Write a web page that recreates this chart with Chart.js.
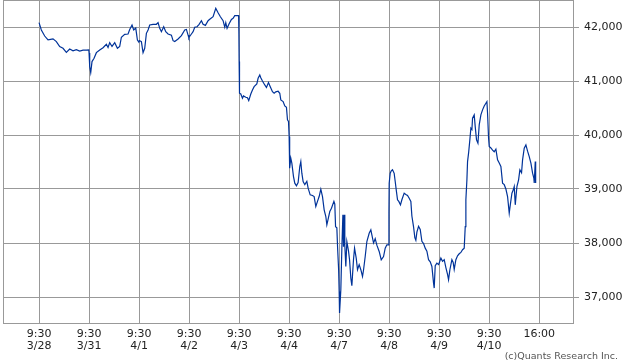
<!DOCTYPE html>
<html>
<head>
<meta charset="utf-8">
<script src="https://cdn.jsdelivr.net/npm/chart.js@4/dist/chart.umd.min.js"></script>
<style>
  body { margin: 0; background: #fff; }
  #wrap { position: relative; width: 638px; height: 362px; }
  #credit { position: absolute; right: 20px; top: 350px; font: 9.5px "DejaVu Sans", sans-serif; color: #555; }
</style>
</head>
<body>
<div id="wrap">
  <canvas id="chart" width="638" height="362"></canvas>
  <div id="credit">(c)Quants Research Inc.</div>
</div>
<script>
// trading days on the axis, each session 9:30-16:00 (390 minutes)
const days = ['3/28', '3/31', '4/1', '4/2', '4/3', '4/4', '4/7', '4/8', '4/9', '4/10'];
const sessionMinutes = 390;
const yTicks = [37000, 38000, 39000, 40000, 41000, 42000];

// [minutes after 9:30, index level]
const mar28 = [[0,42080],[18,41945],[44,41833],[70,41760],[90,41770],[109,41780],[135,41730],[161,41636],[187,41605],[213,41530],[239,41593],[265,41560],[291,41580],[317,41555],[343,41570],[369,41570],[388,41575]];
const mar31 = [[0,41520],[5,41265],[13,41155],[23,41360],[39,41420],[57,41525],[83,41575],[109,41617],[135,41680],[148,41620],[161,41710],[179,41640],[200,41710],[221,41605],[239,41640],[252,41810],[278,41865],[304,41870],[317,41955],[335,42037],[348,41945],[364,41980],[377,41760],[388,41720]];
const apr1 = [[0,41740],[5,41747],[18,41730],[31,41525],[44,41605],[57,41883],[70,41945],[83,42037],[109,42050],[135,42050],[148,42080],[161,41975],[174,41913],[192,42005],[208,41913],[226,41870],[252,41850],[265,41747],[278,41730],[304,41778],[330,41840],[356,41945],[369,41955],[382,41850],[388,41800]];
const apr2 = [[0,41810],[18,41870],[31,41913],[44,41995],[62,42005],[78,42050],[96,42117],[109,42050],[127,42030],[148,42117],[161,42142],[187,42190],[208,42345],[226,42265],[244,42190],[265,42117],[278,41995],[286,42080],[296,41975],[312,42060],[330,42140],[343,42160],[356,42210],[386,42210],[388,41913]];
const apr3 = [[0,41360],[2,40900],[4,40773],[13,40760],[26,40680],[34,40723],[52,40700],[65,40690],[75,40637],[91,40760],[104,40835],[117,40896],[138,40945],[148,41050],[161,41112],[169,41060],[182,41000],[200,40927],[213,40880],[229,40970],[242,40900],[260,40803],[273,40773],[286,40800],[304,40810],[317,40773],[325,40650],[343,40618],[356,40538],[369,40514],[377,40280],[385,40250]];
const apr4 = [[0,39970],[3,39663],[5,39385],[13,39570],[21,39480],[34,39230],[44,39108],[57,39058],[70,39120],[83,39416],[91,39508],[99,39293],[109,39138],[122,39080],[138,39140],[148,39015],[164,38892],[182,38880],[195,38860],[208,38675],[221,38770],[234,38860],[247,38997],[260,38860],[273,38615],[286,38490],[294,38337],[304,38440],[317,38583],[330,38645],[349,38770],[356,38720],[362,38300],[372,38280],[378,37905],[386,37500]];
const apr7 = [[0,37100],[3,36703],[13,37135],[21,37905],[29,38522],[34,37930],[39,38522],[44,37960],[52,37565],[60,38027],[73,37850],[81,37690],[91,37350],[99,37210],[112,37700],[120,37905],[133,37720],[143,37505],[156,37600],[169,37505],[182,37380],[190,37500],[203,37750],[216,38027],[234,38180],[247,38245],[255,38150],[268,38000],[281,38080],[294,37960],[312,37843],[328,37690],[346,37750],[359,37905],[372,37967],[384,37967],[388,38553]];
const apr8 = [[0,39108],[8,39293],[16,39335],[26,39355],[39,39290],[47,39138],[55,38985],[65,38800],[75,38770],[88,38707],[99,38800],[117,38923],[130,38900],[143,38880],[156,38830],[169,38770],[177,38500],[190,38300],[200,38100],[208,38050],[216,38200],[229,38310],[242,38250],[255,38030],[268,37990],[281,37905],[294,37850],[307,37690],[320,37650],[333,37565],[346,37257],[351,37165],[359,37580],[372,37628],[385,37600]];
const apr9 = [[0,37628],[13,37720],[26,37660],[39,37690],[52,37545],[65,37420],[73,37320],[83,37500],[99,37690],[109,37640],[117,37510],[130,37690],[143,37763],[156,37800],[169,37825],[182,37875],[195,37905],[203,38305],[208,38800],[216,39170],[221,39508],[229,39663],[239,39910],[247,40126],[255,40100],[260,40311],[273,40372],[281,40150],[291,39910],[302,39848],[312,40188],[325,40372],[338,40465],[351,40538],[364,40588],[372,40618],[377,40403],[385,39940]];
const apr10 = [[0,39786],[13,39760],[26,39720],[39,39690],[52,39737],[65,39540],[78,39480],[91,39416],[104,39108],[117,39080],[130,39000],[143,38860],[156,38553],[164,38700],[177,38923],[187,38980],[195,39045],[203,38707],[216,39045],[229,39170],[239,39355],[252,39300],[260,39540],[273,39755],[286,39817],[299,39700],[312,39600],[325,39478],[338,39293],[348,39200],[351,39110],[359,39508],[362,39110]];

const sessions = [mar28, mar31, apr1, apr2, apr3, apr4, apr7, apr8, apr9, apr10];

let points = [];
sessions.forEach((session, i) => {
  session.forEach((p) => {
    points.push({ x: i * sessionMinutes + p[0], y: p[1] });
  });
});

const dayTicks = [];
for (let i = 0; i <= days.length; i++) dayTicks.push({ value: i * sessionMinutes });

const frame = {
  id: 'frame',
  afterDraw(chart) {
    const a = chart.chartArea, c = chart.ctx;
    c.save();
    c.strokeStyle = '#999';
    c.lineWidth = 1;
    c.strokeRect(a.left + 0.5, a.top + 0.5, a.width - 1, a.height - 1);
    c.restore();
  }
};

const tickFont = { family: '"DejaVu Sans", sans-serif', size: 11, lineHeight: 1.1 };

new Chart(document.getElementById('chart'), {
  type: 'line',
  data: {
    datasets: [{
      data: points,
      borderColor: '#003399',
      borderWidth: 1.2,
      pointRadius: 0,
      tension: 0,
      fill: false
    }]
  },
  options: {
    responsive: false,
    animation: false,
    layout: { padding: { left: 3, top: 0, right: 0, bottom: 0 } },
    plugins: { legend: { display: false }, tooltip: { enabled: false } },
    scales: {
      x: {
        type: 'linear',
        min: -281,
        max: 4171,
        afterBuildTicks: (scale) => { scale.ticks = dayTicks.map((t) => ({ value: t.value })); },
        afterFit: (scale) => { scale.height = 38; scale.paddingLeft = 0; scale.paddingRight = 0; },
        grid: { color: '#999', lineWidth: 1, drawTicks: false },
        border: { display: false },
        ticks: {
          autoSkip: false,
          maxRotation: 0,
          padding: 4,
          color: '#222',
          font: tickFont,
          callback: (v) => {
            const i = Math.round(v / sessionMinutes);
            return i < days.length ? ['9:30', days[i]] : '16:00';
          }
        }
      },
      y: {
        position: 'right',
        min: 36500,
        max: 42500,
        afterBuildTicks: (scale) => { scale.ticks = yTicks.map((v) => ({ value: v })); },
        afterFit: (scale) => { scale.width = 64; scale.paddingTop = 0; scale.paddingBottom = 0; },
        grid: { color: '#999', lineWidth: 1, tickLength: 5 },
        border: { display: false },
        ticks: {
          padding: 5,
          color: '#222',
          font: tickFont,
          callback: (v) => v.toLocaleString('en-US')
        }
      }
    }
  },
  plugins: [frame]
});
</script>
</body>
</html>
